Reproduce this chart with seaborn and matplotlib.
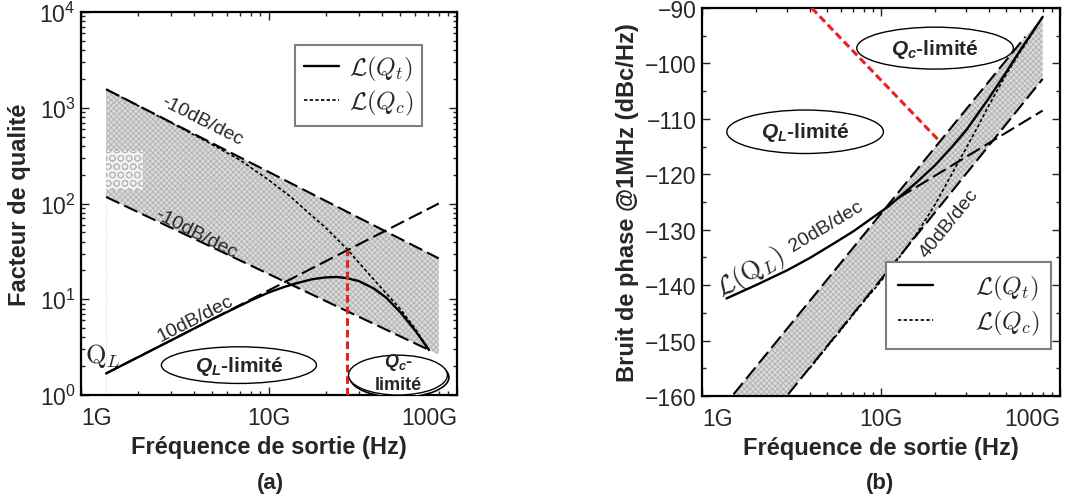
import matplotlib
matplotlib.use("Agg")
import matplotlib.pyplot as plt
import seaborn as sns
from matplotlib.lines import Line2D
from matplotlib.patches import Ellipse

G = 1e9  # frequencies below are in GHz

# ---------- (a) Facteur de qualité ----------
a_upper_f = [1.36, 80]
a_upper_q = [1560, 26.7]
a_lower_f = [1.36, 71]
a_lower_q = [117, 2.95]
a_fill_f = [1.36, 80]
a_fill_hi = [1560, 26.7]
a_fill_lo = [117, 2.65]
a_dots_f = [1.36, 2.15]
a_dots_hi = [355, 355]
a_dots_lo = [138, 138]
a_ql_f = [1.36, 80]
a_ql_q = [1.68, 100]
a_qt_f = [1.36, 3, 5, 8, 10, 12, 14, 17, 20, 23, 26, 30, 36, 42, 50, 60, 71]
a_qt_q = [1.68, 3.7, 6.2, 9.7, 11.8, 13.4, 14.7, 16.2, 16.9, 17.1, 16.6, 15.5,
          13.0, 10.4, 7.3, 4.7, 2.95]
a_qc_f = [1.36, 3, 4.8, 7, 10, 13, 16, 20, 26, 32, 40, 50, 60, 71]
a_qc_q = [1560, 700, 430, 285, 175, 118, 82, 56, 33.4, 21, 12.8, 7.9, 4.9, 2.95]
a_red_f = [26, 26]
a_red_q = [1, 33]

# ---------- (b) Bruit de phase ----------
b_up_f = [1.5, 64]
b_up_db = [-159.7, -95.2]
b_lo_f = [3.03, 80]
b_lo_db = [-159.7, -102.8]
b_fill_f = [1.5, 64, 80]
b_fill_hi = [-159.7, -95.2, -91.6]
b_fill_lo = [-172, -106.7, -102.8]
b_qlasym_f = [12.6, 80]
b_qlasym_db = [-124.2, -108.5]
b_qt_f = [1.37, 2, 3, 4, 5.5, 7, 9, 11, 13, 16, 20, 25, 30, 40, 50, 60, 70, 80]
b_qt_db = [-142.4, -140.0, -137.3, -135.1, -132.4, -130.3, -127.8, -125.8, -123.8,
           -121.3, -118.4, -115.0, -112.0, -106.3, -101.6, -97.6, -94.4, -91.6]
b_qc_f = [4, 6, 8, 10, 13, 16, 20, 25, 30, 35, 40, 50, 60, 70, 80]
b_qc_db = [-155, -148, -143, -139.3, -134.5, -130.5, -125.5, -119.8, -115.2,
           -111.2, -107.6, -102.0, -97.9, -94.6, -91.6]
b_red_f = [4.1, 21.5]
b_red_db = [-90, -114.2]

xticks = [1e9, 1e10, 1e11]
xticklabels = ["1G", "10G", "100G"]

sns.set_style("ticks")
plt.rcParams["font.family"] = ["Liberation Sans", "DejaVu Sans"]
plt.rcParams["mathtext.fontset"] = "custom"
plt.rcParams["mathtext.rm"] = "Liberation Sans"
plt.rcParams["mathtext.it"] = "Liberation Sans:italic:bold"
plt.rcParams["mathtext.bf"] = "Liberation Sans:bold"
plt.rcParams["hatch.linewidth"] = 0.6

DASH = (0, (7, 2.6))
DOT = (0, (2, 1.4))
RED = "#e8231f"


def line(ax, f, v, **kw):
    sns.lineplot(x=[a * G for a in f], y=v, ax=ax, estimator=None, sort=False,
                 legend=False, **kw)


def band(ax, f, lo, hi):
    ax.fill_between([a * G for a in f], lo, hi, facecolor="#dadada",
                    edgecolor="#b0b0b0", hatch="xxxxxx", linewidth=0, zorder=1)


def style_axes(ax):
    ax.set_xscale("log")
    ax.set_xlim(1e9, 1e11)
    ax.set_xticks(xticks)
    ax.set_xticklabels(xticklabels)
    labs = ax.get_xticklabels()
    labs[0].set_horizontalalignment("left")
    labs[-1].set_horizontalalignment("right")
    ax.tick_params(which="both", direction="in", top=True, right=True,
                   labelsize=16.5, width=1, color="#222222")
    ax.tick_params(which="major", length=6, pad=4)
    ax.tick_params(axis="x", which="major", pad=8)
    ax.tick_params(which="minor", length=3)
    for s in ax.spines.values():
        s.set_linewidth(1.6)
        s.set_color("black")
    ax.set_xlabel("Fréquence de sortie (Hz)", fontsize=17, fontweight="bold",
                  labelpad=4)


def ellipse(ax, cx, cy, w, h, shadow=False):
    if shadow:
        ax.add_patch(Ellipse((cx + 0.004, cy - 0.006), w, h, transform=ax.transAxes,
                             facecolor="white", edgecolor="black", lw=1.2, zorder=5))
    ax.add_patch(Ellipse((cx, cy), w, h, transform=ax.transAxes,
                         facecolor="white", edgecolor="black", lw=1.0, zorder=6))


fig = plt.figure(figsize=(10.68, 5.02), dpi=100)
ax1 = fig.add_axes([81 / 1068, 106 / 502, 376 / 1068, 383 / 502])
ax2 = fig.add_axes([702 / 1068, 105 / 502, 358 / 1068, 388 / 502])

# ---------------- panel (a) ----------------
ax1.set_xscale("log")
ax1.set_yscale("log")
band(ax1, a_fill_f, a_fill_lo, a_fill_hi)
ax1.fill_between([a * G for a in a_dots_f], a_dots_lo, a_dots_hi, facecolor="#f2f2f2",
                 edgecolor="#b5b5b5", hatch="OO", linewidth=0, zorder=1.5)
ax1.plot([a_fill_f[0] * G] * 2, [1, a_fill_lo[0]], color="#cccccc", lw=0.6, ls=":",
         zorder=1)
line(ax1, a_upper_f, a_upper_q, color="black", lw=1.5, linestyle=DASH, zorder=3)
line(ax1, a_lower_f, a_lower_q, color="black", lw=1.5, linestyle=DASH, zorder=3)
line(ax1, a_ql_f, a_ql_q, color="black", lw=1.5, linestyle=DASH, zorder=3)
line(ax1, a_qc_f, a_qc_q, color="black", lw=1.2, linestyle=DOT, zorder=4)
line(ax1, a_qt_f, a_qt_q, color="black", lw=1.7, zorder=4)
line(ax1, a_red_f, a_red_q, color=RED, lw=2.2, linestyle=(0, (2.5, 1.3)), zorder=4)

ax1.set_ylim(1, 1e4)
style_axes(ax1)
ax1.set_ylabel("Facteur de qualité", fontsize=17, fontweight="bold", labelpad=6)

ax1.text(4.4 * G, 741, "-10dB/dec", fontsize=14, rotation=-27, ha="center",
         va="center", zorder=7)
ax1.text(4.1 * G, 48.6, "-10dB/dec", fontsize=14, rotation=-27, ha="center",
         va="center", zorder=7)
ax1.text(4.05 * G, 6.3, "10dB/dec", fontsize=14, rotation=27, ha="center",
         va="center", zorder=7)
ax1.text(1.31 * G, 2.6, r"$\mathrm{Q}_{L}$", fontsize=19, ha="center", va="center",
         math_fontfamily="cm")

ellipse(ax1, 0.42, 0.078, 0.4125, 0.0957)
ax1.text(0.42, 0.078, r"$Q_L$-limité", transform=ax1.transAxes, fontsize=15,
         fontweight="bold", ha="center", va="center", zorder=7)
ellipse(ax1, 0.843, 0.052, 0.263, 0.104, shadow=True)
ax1.text(0.845, 0.088, r"$Q_c$-", transform=ax1.transAxes, fontsize=13,
         fontweight="bold", ha="center", va="center", zorder=7)
ax1.text(0.845, 0.027, "limité", transform=ax1.transAxes, fontsize=13,
         fontweight="bold", ha="center", va="center", zorder=7)

handles = [Line2D([], [], color="black", lw=1.7),
           Line2D([], [], color="black", lw=1.2, linestyle=DOT)]
labels = [r"$\mathcal{L}(Q_t)$", r"$\mathcal{L}(Q_c)$"]
leg1 = ax1.legend(handles, labels, loc="upper right", bbox_to_anchor=(0.908, 0.913),
                  borderaxespad=0, fancybox=False, edgecolor="#7f7f7f", framealpha=1,
                  handlelength=1.4, handletextpad=0.4, borderpad=0.35,
                  labelspacing=0.2, prop={"size": 18, "math_fontfamily": "cm"})
leg1.get_frame().set_linewidth(1.5)

# ---------------- panel (b) ----------------
ax2.set_xscale("log")
band(ax2, b_fill_f, b_fill_lo, b_fill_hi)
line(ax2, b_up_f, b_up_db, color="black", lw=1.5, linestyle=DASH, zorder=3)
line(ax2, b_lo_f, b_lo_db, color="black", lw=1.5, linestyle=DASH, zorder=3)
line(ax2, b_qlasym_f, b_qlasym_db, color="black", lw=1.5, linestyle=DASH, zorder=3)
line(ax2, b_qc_f, b_qc_db, color="black", lw=1.2, linestyle=DOT, zorder=4)
line(ax2, b_qt_f, b_qt_db, color="black", lw=1.7, zorder=4)
line(ax2, b_red_f, b_red_db, color=RED, lw=2.2, linestyle=(0, (2.5, 1.3)), zorder=4)

ax2.set_ylim(-160, -90)
ax2.set_yticks(range(-160, -89, 10))
ax2.set_yticks(range(-155, -90, 10), minor=True)
style_axes(ax2)
ax2.set_ylabel("Bruit de phase @1MHz (dBc/Hz)", fontsize=17, fontweight="bold",
               labelpad=4)

ax2.text(1.85 * G, -137.7, r"$\mathcal{L}(\mathrm{Q}_{L})$", fontsize=19, rotation=30,
         ha="center", va="center", math_fontfamily="cm")
ax2.text(4.95 * G, -129.3, "20dB/dec", fontsize=14, rotation=31, ha="center",
         va="center")
ax2.text(24 * G, -128.7, "40dB/dec", fontsize=14, rotation=51, ha="center",
         va="center")

ellipse(ax2, 0.288, 0.681, 0.4375, 0.112)
ax2.text(0.288, 0.681, r"$Q_L$-limité", transform=ax2.transAxes, fontsize=15,
         fontweight="bold", ha="center", va="center", zorder=7)
ellipse(ax2, 0.651, 0.8966, 0.4375, 0.108)
ax2.text(0.651, 0.8966, r"$Q_c$-limité", transform=ax2.transAxes, fontsize=15,
         fontweight="bold", ha="center", va="center", zorder=7)

leg2 = ax2.legend(handles, labels, loc="lower right", bbox_to_anchor=(0.976, 0.122),
                  borderaxespad=0, fancybox=False, edgecolor="#7f7f7f", framealpha=1,
                  handlelength=1.4, handletextpad=1.7, borderpad=0.45,
                  labelspacing=0.25, prop={"size": 18, "math_fontfamily": "cm"})
leg2.get_frame().set_linewidth(1.5)

fig.text(270 / 1068, 1 - 484 / 502, "(a)", fontsize=16, fontweight="bold",
         ha="center", va="center")
fig.text(880 / 1068, 1 - 484 / 502, "(b)", fontsize=16, fontweight="bold",
         ha="center", va="center")

fig.savefig("out.png", dpi=100)
